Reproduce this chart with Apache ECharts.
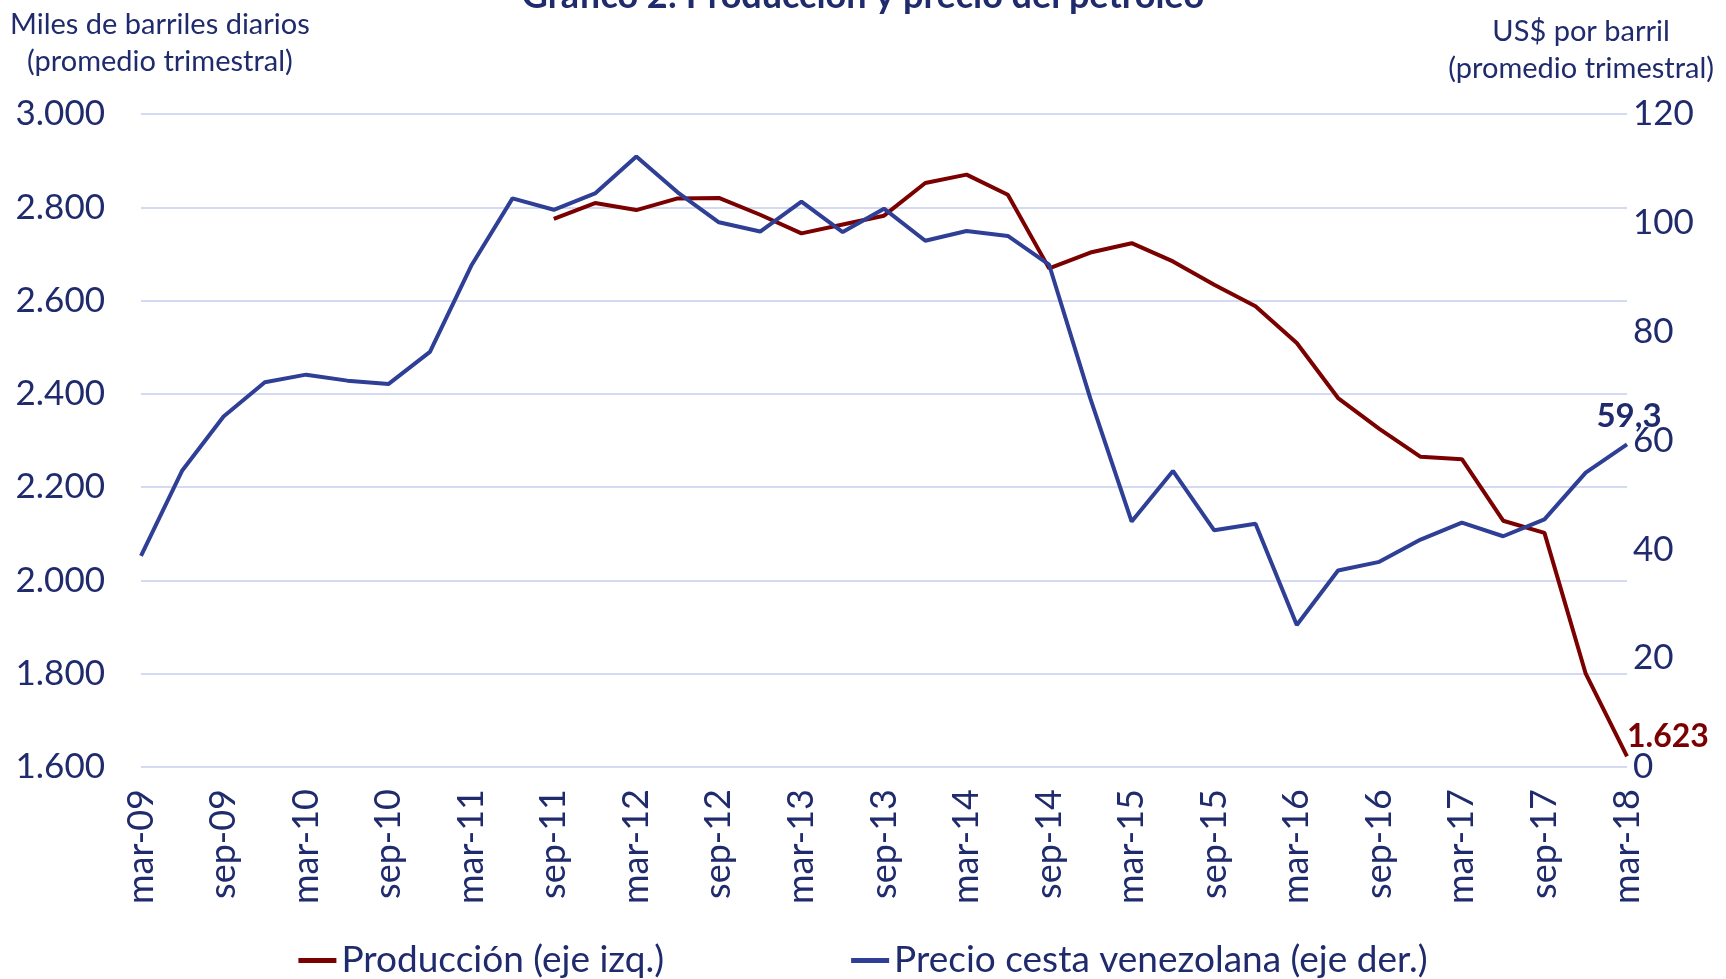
<!DOCTYPE html>
<html>
<head>
<meta charset="utf-8">
<title>Gráfico 2</title>
<script src="https://cdn.jsdelivr.net/npm/echarts@6/dist/echarts.min.js"></script>
<style>
  html, body { margin: 0; padding: 0; background: #fff; }
  #main { width: 1726px; height: 979px; }
</style>
</head>
<body>
<div id="main"></div>
<script>
// quarterly, mar-09 .. mar-18
var quarters = ['mar-09','jun-09','sep-09','dic-09','mar-10','jun-10','sep-10','dic-10',
  'mar-11','jun-11','sep-11','dic-11','mar-12','jun-12','sep-12','dic-12',
  'mar-13','jun-13','sep-13','dic-13','mar-14','jun-14','sep-14','dic-14',
  'mar-15','jun-15','sep-15','dic-15','mar-16','jun-16','sep-16','dic-16',
  'mar-17','jun-17','sep-17','dic-17','mar-18'];

// miles de barriles diarios (eje izq.)
var produccion = [null,null,null,null,null,null,null,null,null,null,
  2775,2809,2794,2819,2820,2784,2744,2763,2782,2852,2870,2827,2669,2703,
  2723,2684,2634,2588,2509,2391,2325,2265,2260,2128,2102,1800,1623];

// US$ por barril (eje der.)
var precio = [38.8,54.5,64.4,70.7,72.1,71.0,70.4,76.3,92.1,104.5,102.4,105.4,
  112.2,105.6,100.1,98.4,103.9,98.3,102.6,96.7,98.5,97.6,92.3,67.7,
  45.1,54.4,43.5,44.7,26.1,36.1,37.7,41.8,44.9,42.4,45.5,54.1,59.3];

var navy = '#1F2B6C';
var red = '#7B0000';
var blue = '#2E3F95';
var font = 'Lato';

function miles(v) {
  return String(v).replace(/\B(?=(\d{3})+(?!\d))/g, '.');
}

var chart = echarts.init(document.getElementById('main'));

// only the last point gets a data label
function lastLabel(arr, opts) {
  return arr.map(function (v, i) {
    if (i === arr.length - 1) return { value: v, label: opts };
    return v;
  });
}

var option = {
  animation: false,
  textStyle: { fontFamily: font, color: navy },
  title: {
    text: 'Gráfico 2: Producción y precio del petróleo',
    left: 'center',
    top: -27,
    textStyle: { fontFamily: font, fontSize: 36, fontWeight: 'bold', color: navy }
  },
  graphic: [
    { type: 'text', left: 10, top: 6,
      style: { text: 'Miles de barriles diarios\n(promedio trimestral)', fill: navy,
        font: '29px Lato', textAlign: 'center', lineHeight: 37 } },
    { type: 'text', right: 12, top: 13,
      style: { text: 'US$ por barril\n(promedio trimestral)', fill: navy,
        font: '29px Lato', textAlign: 'center', lineHeight: 37 } }
  ],
  legend: {
    bottom: -5,
    left: 'center',
    itemWidth: 38,
    itemHeight: 5,
    itemGap: 187,
    icon: 'rect',
    textStyle: { fontFamily: font, fontSize: 37, color: navy },
    data: ['Producción (eje izq.)', 'Precio cesta venezolana (eje der.)']
  },
  grid: { left: 141, right: 99, top: 114, bottom: 212 },
  xAxis: {
    type: 'category',
    data: quarters,
    boundaryGap: false,
    axisLine: { show: false },
    axisTick: { show: false },
    axisLabel: {
      interval: 1,
      rotate: 90,
      margin: 22,
      fontFamily: font,
      fontSize: 36,
      color: navy
    }
  },
  yAxis: [
    {
      type: 'value',
      min: 1600, max: 3000, interval: 200,
      axisLine: { show: false },
      axisTick: { show: false },
      splitLine: { lineStyle: { color: '#D3DAF1', width: 2 } },
      axisLabel: { margin: 36, fontFamily: font, fontSize: 35, color: navy, formatter: miles }
    },
    {
      type: 'value',
      min: 0, max: 120, interval: 20,
      axisLine: { show: false },
      axisTick: { show: false },
      splitLine: { show: false },
      axisLabel: { margin: 6, fontFamily: font, fontSize: 35, color: navy }
    }
  ],
  series: [
    {
      name: 'Producción (eje izq.)',
      type: 'line',
      yAxisIndex: 0,
      symbol: 'circle',
      symbolSize: 0.01,
      showSymbol: true,
      color: red,
      lineStyle: { color: red, width: 4 },
      data: lastLabel(produccion, {
        show: true, position: 'right', distance: 0, offset: [0, -20],
        fontFamily: font, fontSize: 32, fontWeight: 'bold', color: red,
        formatter: function (p) { return miles(p.value); }
      })
    },
    {
      name: 'Precio cesta venezolana (eje der.)',
      type: 'line',
      yAxisIndex: 1,
      symbol: 'circle',
      symbolSize: 0.01,
      showSymbol: true,
      color: blue,
      lineStyle: { color: blue, width: 4 },
      data: lastLabel(precio, {
        show: true, position: 'top', distance: 11, offset: [2, 0],
        fontFamily: font, fontSize: 33, fontWeight: 'bold', color: navy,
        formatter: function (p) { return String(p.value).replace('.', ','); }
      })
    }
  ]
};

chart.setOption(option);
</script>
</body>
</html>
